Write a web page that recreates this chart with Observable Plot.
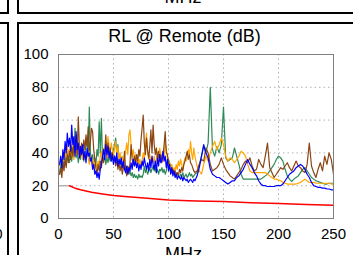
<!DOCTYPE html>
<html><head><meta charset="utf-8">
<script src="https://cdn.jsdelivr.net/npm/d3@7"></script>
<script src="https://cdn.jsdelivr.net/npm/@observablehq/plot@0.6"></script>
<style>
html,body{margin:0;padding:0;background:#fff;}
#wrap{position:relative;width:353px;height:255px;overflow:hidden;font-family:"Liberation Sans",Arial,sans-serif;}
#wrap svg{position:absolute;left:0;top:0;}
</style></head><body><div id="wrap"></div>
<script>
// ---- data ----
const title = "RL @ Remote (dB)";
const xLabel = "MHz";
const xTicks = [0, 50, 100, 150, 200, 250];
const yTicks = [0, 20, 40, 60, 80, 100];

// frequency grid: 1 MHz steps to 124, then 2 MHz steps 126..250
const freqDense = d3.range(1, 125);
const freqSparse = d3.range(126, 251, 2);

const blueDense = [33,38,31,42,36, 47,40,52,44,49, 41,57,45,50,38, 53,42,46,37,44, 39,45,36,41,34, 43,38,40,35,37,
 30,33,27,29,25, 28,24,30,33,38, 42,36,45,39,44, 37,41,35,39,33, 38,34,40,32,36, 33,37,31,35,30,
 28,32,27,31,29, 34,30,36,32,35, 31,34,29,33,30, 35,32,37,33,30, 34,29,36,31,38, 33,30,35,28,37,
 32,39,34,36,41, 35,38,31,36,29, 33,27,31,26,29, 25,27,24,26,25, 24,26,23,25,24, 23,24,22,23,24, 23,22,24,23];
const blueSparse = [26,31,38,45,40,37,30,27,26,25,25,24,23,22,21,22,23,23,25,26,28,30,33,36,33,31,28,26,23,21,
 20,20,19.5,19.5,19.5,19.5,20,20,20,21,23,25,27,28,29,31,32,33,32,30,27,25,22,20,19.5,19,19,18.5,18.5,18,18,17.5,17.5];

const greenDense = [27,33,29,36,32, 40,35,43,37,34, 39,35,42,38,55, 37,41,34,39,36, 43,38,35,40,44, 49,38,68,40,36,
 39,34,37,33,42, 38,59,40,61,37, 35,39,33,37,34, 38,35,40,36,42, 45,49,40,45,37, 33,36,31,34,30,
 32,28,31,27,29, 26,28,25,27,25, 26,24,27,25,26, 25,27,32,28,30, 27,29,31,28,30, 32,29,31,28,30,
 27,30,29,31,28, 30,27,29,33,36, 34,31,29,27,28, 26,28,27,26,25, 27,26,28,25,26, 27,25,26,28,26, 27,25,26,27];
const greenSparse = [28,33,38,44,40,46,80,42,38,44,40,45,68,37,35,36,37,43,38,33,27,24,24,24,24,24,24,24,24,24,
 25,26,27,29,31,33,36,38,37,35,30,26,24,22.6,24,25,26,28,30,31,29,27,25,24,23,22.5,22,21.5,21,21,21.5,21.5,21.5];

const orangeDense = [32,36,34,39,35, 41,37,44,39,42, 38,45,40,36,43, 39,47,41,37,44, 40,36,42,38,35, 40,37,33,38,35,
 32,36,30,34,31, 35,33,38,41,37, 43,39,47,41,50, 44,40,46,42,38, 43,47,39,44,36, 40,35,38,33,37,
 41,46,39,51,54, 45,38,42,36,39, 34,38,33,36,31, 35,40,37,44,52, 41,36,39,33,37, 34,38,32,36,40,
 37,43,39,35,41, 38,46,43,36,31, 34,30,33,28,31, 29,33,30,35,32, 36,33,30,34,37, 35,39,42,38,47, 40,36,43,38];
const orangeSparse = [32,29,27,33,38,35,40,44,47,42,45,49,45,38,35,37,36,34,36,38,41,40,38,33,29,28,28,28,28,28,
 28,28,27,26,25,24,24,23.5,23,22,21.5,21,21,21,21,21,21.5,22,23,24,23,22,22,22,21.5,21.5,21.5,21.5,21.5,21.5,21.5,21,21];

const brownDense = [27,31,25,34,29, 36,31,39,34,41, 36,44,38,47,40, 45,39,62,43,38, 46,40,48,42,51, 44,56,41,47,55,
 53,42,36,31,27, 33,29,35,31,38, 34,40,51,37,46, 39,43,36,40,34, 38,32,36,30,34, 29,33,27,31,41,
 30,26,32,28,34, 45,36,33,38,34, 39,35,42,38,48, 55,63,46,39,49, 41,37,44,54,40, 57,45,39,43,36,
 41,35,39,34,38, 45,53,40,39,34, 31,30,28,30,27, 29,26,28,26,30, 28,31,29,33,35, 38,41,36,39,34, 33,31,29,28];
const brownSparse = [29,33,36,35,43,40,33,29,30,31,33,37,33,30,28,26,25,24,26,28,30,33,35,34,37,32,29,30,36,33,
 31,38,46,31,28,25,27,29,31,30,32,34,31,29,32,35,32,31,29,28,33,46,32,28,25,30,34,29,38,33,40,36,27];

const limitGrayF = [0, 10];
const limitGrayV = [20, 20];
const limitRedF = [10, 15, 20, 30, 40, 50, 60, 75, 100, 125, 150, 175, 200, 225, 250];
const limitRedV = [20, 18.5, 17.5, 16, 15, 14, 13.4, 12.6, 11.3, 10.7, 10.3, 9.6, 9.2, 8.6, 8.0];

// ---- build tables ----
const freq = freqDense.concat(freqSparse);
function rows(dense, sparse) {
  const v = dense.concat(sparse);
  const n = Math.min(v.length, freq.length);
  return d3.range(n).map(i => ({f: freq[i], v: v[i]}));
}
const pairs = (F, V) => F.map((f, i) => ({f, v: V[i]}));
const green = rows(greenDense, greenSparse);
const orange = rows(orangeDense, orangeSparse);
const brown = rows(brownDense, brownSparse);
const blue = rows(blueDense, blueSparse);
const gray = pairs(limitGrayF, limitGrayV);
const red = pairs(limitRedF, limitRedV);

const W = 353, H = 255;
const lineOpts = (color, w) => ({x: "f", y: "v", stroke: color, strokeWidth: w, clip: true});

const chart = Plot.plot({
  width: W, height: H,
  marginLeft: 58, marginRight: 20, marginTop: 54, marginBottom: 37,
  style: {fontFamily: '"Liberation Sans", Arial, sans-serif', fontSize: "15px", color: "#000", background: "transparent"},
  x: {domain: [0, 250]},
  y: {domain: [0, 100]},
  marks: [
    Plot.ruleX([50, 100, 150, 200], {stroke: "#b0b0b0", strokeDasharray: "1.5,3", strokeWidth: 1}),
    Plot.ruleY([20, 40, 60, 80], {stroke: "#b0b0b0", strokeDasharray: "1.5,3", strokeWidth: 1}),
    Plot.line(green, lineOpts("#2e8b57", 1.2)),
    Plot.line(orange, lineOpts("#ffa500", 1.2)),
    Plot.line(brown, lineOpts("#8b4513", 1.2)),
    Plot.line(blue, lineOpts("#0000ff", 1.2)),
    Plot.line(gray, lineOpts("#b4b4b4", 1.5)),
    Plot.line(red, lineOpts("#ff0000", 1.5)),
    Plot.frame({stroke: "#808080", strokeWidth: 1}),
    Plot.axisX(xTicks, {tickSize: 0, tickPadding: 10, fontSize: 15, label: null}),
    Plot.axisY(yTicks, {tickSize: 0, tickPadding: 10, fontSize: 15, label: null})
  ]
});

const wrap = document.getElementById("wrap");
wrap.appendChild(chart);

// ---- overlay: titles, labels and neighbouring panel borders ----
const ov = d3.create("svg").attr("width", W).attr("height", H)
  .style("font-family", '"Liberation Sans", Arial, sans-serif').style("pointer-events", "none");
const seg = (x1, y1, x2, y2) => ov.append("line").attr("x1", x1).attr("y1", y1).attr("x2", x2).attr("y2", y2)
  .attr("stroke", "#000").attr("stroke-width", 2);
seg(8, 0, 8, 14); seg(0, 13, 9, 13);
seg(0, 23, 9, 23); seg(8, 22, 8, H);
seg(18, 0, 18, 14); seg(17, 13, W, 13);
seg(17, 23, W, 23); seg(18, 22, 18, H);

ov.append("text").attr("x", 184.5).attr("y", 42).attr("text-anchor", "middle")
  .attr("font-size", 18).attr("fill", "#000").text(title);
ov.append("text").attr("x", 183).attr("y", 3).attr("text-anchor", "middle")
  .attr("font-size", 18).attr("fill", "#000").text(xLabel);
ov.append("text").attr("x", 183.5).attr("y", 260).attr("text-anchor", "middle")
  .attr("font-size", 18).attr("fill", "#000").text(xLabel);
ov.append("text").attr("x", 2.5).attr("y", 238.5).attr("text-anchor", "end")
  .attr("font-size", 15).attr("fill", "#000").text(String(xTicks[xTicks.length - 1]));
wrap.appendChild(ov.node());
</script></body></html>
